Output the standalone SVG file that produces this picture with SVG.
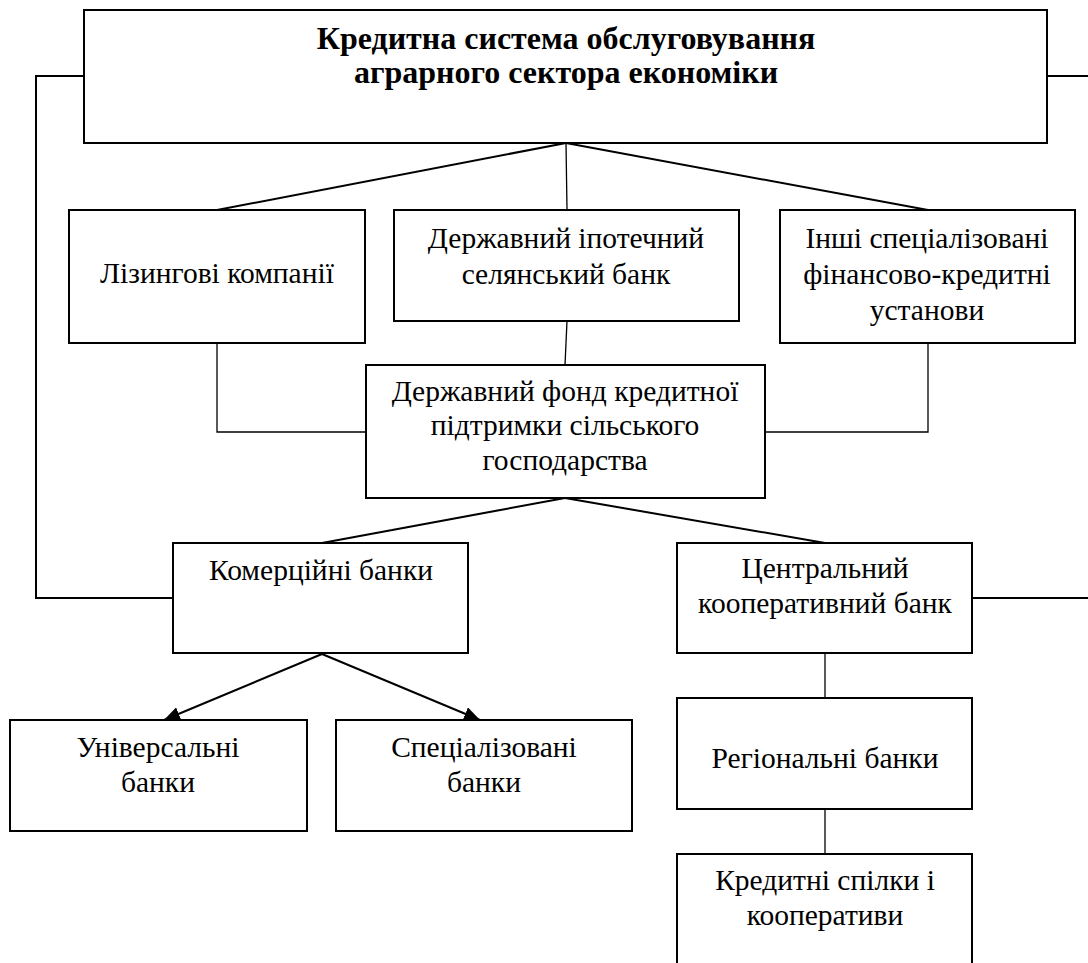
<svg xmlns="http://www.w3.org/2000/svg" width="1088" height="963" viewBox="0 0 1088 963">
<style>
  .box { fill: #fff; stroke: #000; stroke-width: 2; }
  .t { font-family: "Liberation Serif", "DejaVu Serif", serif; font-size: 29.5px; fill: #000; text-anchor: middle; }
  .tb { font-family: "Liberation Serif", "DejaVu Serif", serif; font-size: 32px; font-weight: bold; fill: #000; text-anchor: middle; }
  .c { fill: none; stroke: #000; stroke-width: 2; }
  .cv { fill: none; stroke: #000; stroke-width: 1.3; }
</style>
<defs>
  <marker id="arr" viewBox="0 0 10 10" refX="10" refY="5" markerWidth="8" markerHeight="7" markerUnits="strokeWidth" orient="auto" preserveAspectRatio="none">
    <path d="M0,0 L10,5 L0,10 z" fill="#000"/>
  </marker>
</defs>
<rect width="1088" height="963" fill="#fff"/>
<g id="connectors">
  <polyline class="c" points="84,76 36,76 36,598 173,598"/>
  <line class="c" x1="1047" y1="76" x2="1088" y2="76"/>
  <line class="c" x1="972" y1="598" x2="1088" y2="598"/>
  <line class="c" x1="566" y1="143" x2="217" y2="210"/>
  <line class="cv" x1="566" y1="143" x2="567" y2="210"/>
  <line class="c" x1="566" y1="143" x2="928" y2="210"/>
  <line class="cv" x1="567" y1="321" x2="565" y2="365"/>
  <polyline class="cv" points="217,343 217,432 366,432"/>
  <polyline class="cv" points="928,343 928,432 765,432"/>
  <line class="c" x1="565" y1="498" x2="322" y2="543"/>
  <line class="c" x1="565" y1="498" x2="825" y2="543"/>
  <line class="c" x1="322" y1="654" x2="164" y2="720" marker-end="url(#arr)"/>
  <line class="c" x1="322" y1="654" x2="480" y2="720" marker-end="url(#arr)"/>
  <line class="cv" x1="825" y1="653" x2="825" y2="698"/>
  <line class="cv" x1="825" y1="809" x2="825" y2="854"/>
</g>
<g id="n-top">
  <rect class="box" x="84" y="10" width="963" height="133"/>
  <text class="tb" x="566" y="49">Кредитна система обслуговування</text>
  <text class="tb" x="566" y="83">аграрного сектора економіки</text>
</g>
<g id="n-leasing">
  <rect class="box" x="69" y="210" width="296" height="133"/>
  <text class="t" x="217" y="283">Лізингові компанії</text>
</g>
<g id="n-mortgage">
  <rect class="box" x="394" y="210" width="345" height="111"/>
  <text class="t" x="566" y="248">Державний іпотечний</text>
  <text class="t" x="566" y="284">селянський банк</text>
</g>
<g id="n-other">
  <rect class="box" x="780" y="210" width="295" height="133"/>
  <text class="t" x="927" y="248">Інші спеціалізовані</text>
  <text class="t" x="927" y="284">фінансово-кредитні</text>
  <text class="t" x="927" y="320">установи</text>
</g>
<g id="n-fund">
  <rect class="box" x="366" y="365" width="399" height="133"/>
  <text class="t" x="565" y="401">Державний фонд кредитної</text>
  <text class="t" x="565" y="435">підтримки сільського</text>
  <text class="t" x="565" y="470">господарства</text>
</g>
<g id="n-commercial">
  <rect class="box" x="173" y="543" width="295" height="110"/>
  <text class="t" x="321" y="580">Комерційні банки</text>
</g>
<g id="n-central">
  <rect class="box" x="677" y="543" width="295" height="110"/>
  <text class="t" x="825" y="578">Центральний</text>
  <text class="t" x="825" y="613">кооперативний банк</text>
</g>
<g id="n-universal">
  <rect class="box" x="10" y="720" width="297" height="111"/>
  <text class="t" x="158" y="757">Універсальні</text>
  <text class="t" x="158" y="792">банки</text>
</g>
<g id="n-specialized">
  <rect class="box" x="336" y="720" width="296" height="111"/>
  <text class="t" x="484" y="757">Спеціалізовані</text>
  <text class="t" x="484" y="792">банки</text>
</g>
<g id="n-regional">
  <rect class="box" x="677" y="698" width="295" height="111"/>
  <text class="t" x="825" y="768">Регіональні банки</text>
</g>
<g id="n-credit-unions">
  <rect class="box" x="677" y="854" width="295" height="120"/>
  <text class="t" x="825" y="890">Кредитні спілки і</text>
  <text class="t" x="825" y="925">кооперативи</text>
</g>
</svg>
